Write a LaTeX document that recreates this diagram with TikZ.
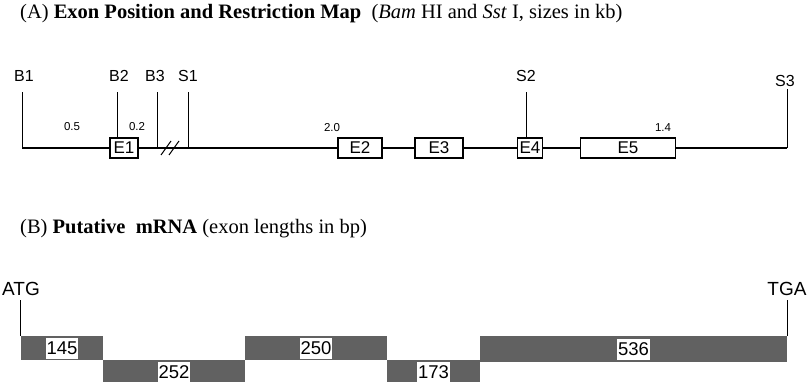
\documentclass[tikz,border=0pt]{standalone}
\usepackage{fontspec}
\setmainfont{Liberation Serif}
\setsansfont{Liberation Sans}
\usetikzlibrary{positioning}
\tikzset{
  site/.style={font=\sffamily\fontsize{16}{16}\selectfont, inner sep=1pt},
  codon/.style={font=\sffamily\fontsize{19}{19}\selectfont, inner sep=1pt},
  exonbox/.style={draw, line width=1.3pt, fill=white, minimum height=20pt,
    inner sep=0pt, font=\sffamily\fontsize{17}{17}\selectfont},
  dist/.style={font=\sffamily\fontsize{11.5}{12}\selectfont, inner sep=0pt},
  dna/.style={line width=1.5pt},
  tick/.style={line width=0.8pt},
  bar/.style={draw=none, fill=black!62, minimum height=24pt, inner sep=0pt},
  barlabel/.style={fill=white, inner sep=1pt, minimum height=21pt,
    font=\sffamily\fontsize{18.5}{19}\selectfont},
  heading/.style={anchor=base west, inner sep=0pt, font=\fontsize{20.5}{24}\selectfont}
}
\begin{document}
\begin{tikzpicture}[x=1pt, y=-1pt]
  \useasboundingbox (0,0) rectangle (809,382);
  % (A) restriction map
  \node[heading] (titleA) at (20,19) {(A) \textbf{Exon Position and Restriction Map}\ \ (\textit{Bam} HI and \textit{Sst} I, sizes in kb)};
  \coordinate (axis) at (0,148);
  % sites
  \node[site, anchor=base] (b1) at (24,82) {B1};
  \node[site, anchor=base] (b2) at (119,82) {B2};
  \node[site, anchor=base] (b3) at (155,82) {B3};
  \node[site, anchor=base] (s1) at (188,82) {S1};
  \node[site, anchor=base] (s2) at (526,82) {S2};
  \node[site, anchor=base] (s3) at (785,87) {S3};
  % exons
  \node[exonbox, minimum width=28pt] (e1) at (124,148) {E1};
  \node[exonbox, minimum width=44pt] (e2) at (360,148) {E2};
  \node[exonbox, minimum width=48pt] (e3) at (439,148) {E3};
  \node[exonbox, minimum width=25pt] (e4) at (530,148) {E4};
  \node[exonbox, minimum width=95pt] (e5) at (628,148) {E5};
  \coordinate (start) at (22,148);
  \coordinate (stop) at (787,148);
  \coordinate (brk) at (171,148);
  % backbone
  \draw[dna] (start) -- (e1.west);
  \draw[dna] (e1.east) -- (e2.west);
  \draw[dna] (e2.east) -- (e3.west);
  \draw[dna] (e3.east) -- (e4.west);
  \draw[dna] (e4.east) -- (e5.west);
  \draw[dna] (e5.east) -- (stop);
  \draw[tick, line width=1pt] (brk) ++(-10,7) -- ++(10,-14);
  \draw[tick, line width=1pt] (brk) ++(-2,7) -- ++(10,-14);
  % site ticks
  \draw[tick, shorten <=9pt] (b1.south -| start) -- (start);
  \draw[tick, shorten <=9pt] (b2.south -| 117,0) -- (117,0 |- e1.north);
  \draw[tick, shorten <=9pt] (b3.south -| 157,0) -- (157,0 |- axis);
  \draw[tick, shorten <=9pt] (s1.south) -- (s1.south |- axis);
  \draw[tick, shorten <=9pt] (s2.south) -- (s2.south |- e4.north);
  \draw[tick, shorten <=1pt] (s3.south -| stop) -- (stop);
  % distances
  \node[dist] (d1) at (72,127) {0.5};
  \node[dist] (d2) at (137,127) {0.2};
  \node[dist] (d3) at (332,128) {2.0};
  \node[dist] (d4) at (663,128) {1.4};

  % (B) mRNA
  \node[heading] (titleB) at (20,234) {(B) \textbf{Putative\ \ mRNA} (exon lengths in bp)};
  \node[bar, minimum width=82pt] (x1) at (62,348) {};
  \node[bar, minimum width=142pt] (x2) at (174,372) {};
  \node[bar, minimum width=142pt] (x3) at (316,348) {};
  \node[bar, minimum width=93pt] (x4) at (433.5,372) {};
  \node[bar, minimum width=307pt, minimum height=26pt] (x5) at (633.5,349) {};
  \node[barlabel] (l1) at (x1) {145};
  \node[barlabel] (l2) at (x2) {252};
  \node[barlabel] (l3) at (x3) {250};
  \node[barlabel] (l4) at (x4) {173};
  \node[barlabel] (l5) at (x5) {536};
  \node[codon, anchor=base] (atg) at (21,295) {ATG};
  \node[codon, anchor=base] (tga) at (787,295) {TGA};
  \draw[tick, shorten <=4pt] (atg.south -| x1.north west) -- (x1.north west);
  \draw[tick, shorten <=4pt] (tga.south -| x5.north east) -- (x5.north east);
\end{tikzpicture}
\end{document}
